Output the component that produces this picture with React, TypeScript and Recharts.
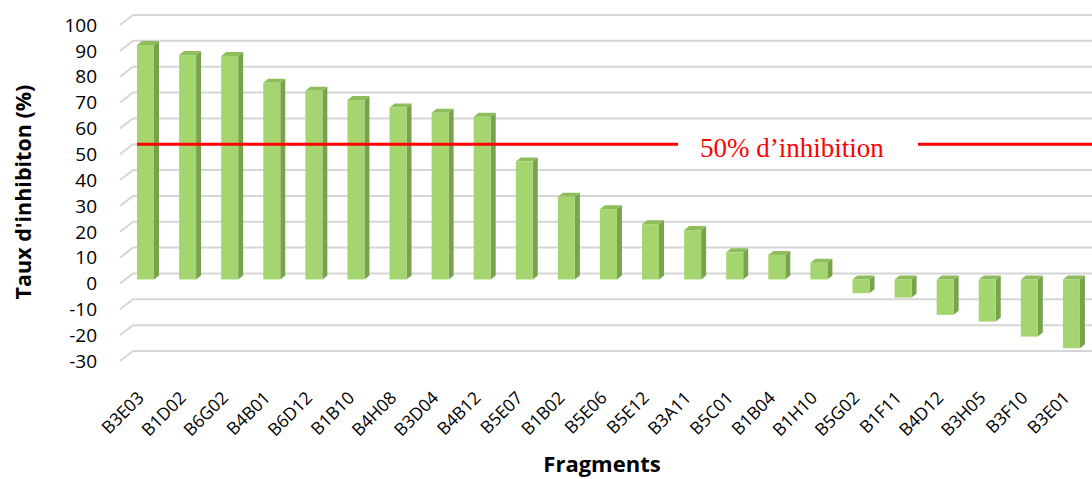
import React from 'react';
import { BarChart, Bar, XAxis, YAxis, CartesianGrid, ReferenceLine } from 'recharts';

const categories = ['B3E03','B1D02','B6G02','B4B01','B6D12','B1B10','B4H08','B3D04','B4B12','B5E07','B1B02','B5E06','B5E12','B3A11','B5C01','B1B04','B1H10','B5G02','B1F11','B4D12','B3H05','B3F10','B3E01'];
const inhibition = [90.7,86.8,86.5,76.1,73.0,69.4,66.5,64.5,63.0,45.6,32.0,27.2,21.4,19.1,10.5,9.5,6.5,-5.3,-7.0,-13.7,-16.3,-22.1,-26.6];
const yTicks = [-30,-20,-10,0,10,20,30,40,50,60,70,80,90,100];
const thresholdValue = 50;
const thresholdLabel = '50% d\u2019inhibition';
const yTitle = "Taux d'inhibiton (%)";
const xTitle = 'Fragments';

const data = categories.map((c, i) => ({ name: c, value: inhibition[i] }));

const DEPTH_Y = 10;

const Bar3D = (props: any) => {
  const { x, y, width, height } = props;
  const top = Math.min(y, y + height) - 4;
  const h = Math.abs(height);
  const dx = 5, dy = 4;
  const r = x + width;
  return (
    <g>
      <polygon points={`${r},${top} ${r + dx},${top - dy} ${r + dx},${top + h - dy} ${r},${top + h}`} fill="#78a34b" />
      <polygon points={`${x},${top} ${x + dx},${top - dy} ${r + dx},${top - dy} ${r},${top}`} fill="#8ebd5c" />
      <rect x={x} y={top} width={width} height={h} fill="#a5d56e" />
    </g>
  );
};

const GridLine = (props: any) => {
  const { x1, y1, x2 } = props;
  const fx = x1 - 4;
  const bx = x1 + 9;
  const by = y1 - DEPTH_Y;
  return (
    <path d={`M${fx},${y1} L${bx},${by} L${x2 + 10},${by}`} stroke="#d6d6d6" strokeWidth={2} fill="none" />
  );
};

const RefShape = (props: any) => {
  const { y1, x2 } = props;
  const yy = y1 - DEPTH_Y;
  return (
    <g>
      <line x1={137} y1={yy} x2={x2 + 10} y2={yy} stroke="#ff0000" strokeWidth={3} />
      <rect x={678} y={yy - 20} width={240} height={40} fill="#ffffff" />
      <text x={700} y={yy + 13} fontFamily="'Liberation Serif', 'Times New Roman', serif" fontSize={27} fill="#ff0000">{thresholdLabel}</text>
    </g>
  );
};

const XTick = (props: any) => {
  const { x, y, payload } = props;
  return (
    <text x={x} y={y} transform={`rotate(-45, ${x}, ${y})`} textAnchor="end" fontFamily="'Open Sans', sans-serif" fontSize={17.5} fill="#000">
      {payload.value}
    </text>
  );
};

export default function App() {
  return (
    <div style={{ position: 'absolute', left: 0, top: 0, background: '#fff' }}>
      <BarChart width={1092} height={479} data={data} margin={{ top: 25, right: 0, bottom: 0, left: 0 }} barCategoryGap={0}>
        <CartesianGrid vertical={false} horizontal={(p: any) => <GridLine key={p.key} {...p} />} />
        <XAxis
          dataKey="name"
          height={118}
          axisLine={false}
          tickLine={false}
          tickSize={0}
          tickMargin={38}
          interval={0}
          tick={<XTick />}
          label={{
            content: () => (
              <text x={602} y={472} textAnchor="middle" fontFamily="'Open Sans', sans-serif" fontWeight="bold" fontSize={22} fill="#000">{xTitle}</text>
            ),
          }}
        />
        <YAxis
          width={124}
          domain={[-30, 100]}
          ticks={yTicks}
          interval={0}
          axisLine={false}
          tickLine={false}
          tickSize={0}
          tickMargin={27}
          tick={{ fontFamily: "'Open Sans', sans-serif", fontSize: 19, fill: '#000' }}
          label={{
            content: () => (
              <text x={31} y={192} transform="rotate(-90, 31, 192)" textAnchor="middle" fontFamily="'Open Sans', sans-serif" fontWeight="bold" fontSize={21.5} fill="#000">{yTitle}</text>
            ),
          }}
        />
        <Bar dataKey="value" barSize={17} isAnimationActive={false} shape={(p: any) => <Bar3D {...p} />} />
        <ReferenceLine y={thresholdValue} shape={(p: any) => <RefShape {...p} />} />
      </BarChart>
    </div>
  );
}
